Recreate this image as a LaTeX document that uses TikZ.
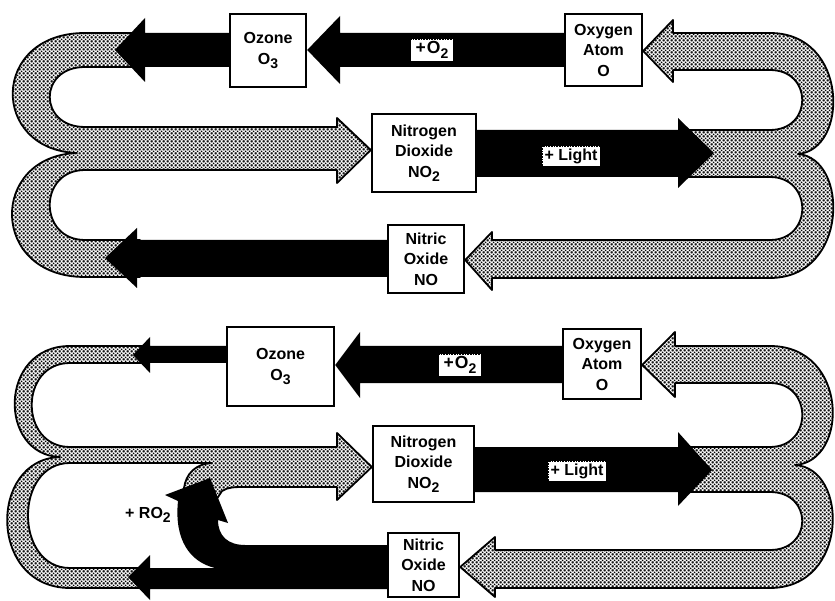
\documentclass[tikz,border=0pt]{standalone}
\usepackage{fontspec}
\setmainfont{Liberation Sans}
\usetikzlibrary{patterns.meta}
\pgfdeclarelayer{bg}
\pgfsetlayers{bg,main}
\tikzdeclarepattern{
  name=stipple,
  type=uncolored,
  bounding box={(0pt,0pt) and (3.6pt,3.6pt)},
  tile size={(3.6pt,3.6pt)},
  code={
    \pgfpathcircle{\pgfqpoint{1.8pt}{1.8pt}}{1.05pt}
    \pgfpathcircle{\pgfqpoint{0pt}{0pt}}{1.05pt}
    \pgfpathcircle{\pgfqpoint{3.6pt}{0pt}}{1.05pt}
    \pgfpathcircle{\pgfqpoint{0pt}{3.6pt}}{1.05pt}
    \pgfpathcircle{\pgfqpoint{3.6pt}{3.6pt}}{1.05pt}
    \pgfusepath{fill}
  }
}
\newcommand\lowsub[1]{\raisebox{-4.5pt}{\fontsize{14}{14}\selectfont #1}}
\begin{document}
\begin{tikzpicture}[x=1pt,y=-1pt,
  box/.style={draw, line width=2.4pt, fill=white, align=center, inner sep=0pt,
    font=\fontsize{16}{20.5}\selectfont\bfseries},
  stip/.style={preaction={fill=white}, pattern=stipple, pattern color=black,
    draw=black, line width=1.8pt, line join=round},
  blk/.style={fill=black},
  tag/.style={fill=white, draw=black, densely dotted, line width=0.6pt, inner sep=2.5pt,
    font=\fontsize{16}{16}\selectfont\bfseries},
  lbl/.style={font=\fontsize{16}{16}\selectfont\bfseries, inner sep=0pt}]
\useasboundingbox (0,0) rectangle (835,601);

% ---------- top diagram: boxes ----------
\node[box, minimum width=76pt, minimum height=73pt] (ozA) at (268,50.5) {Ozone\\O\lowsub{3}};
\node[box, minimum width=77pt, minimum height=72pt] (oxA) at (603.5,50) {Oxygen\\Atom\\O};
\node[box, minimum width=104pt, minimum height=78pt] (no2A) at (424,153) {Nitrogen\\Dioxide\\NO\lowsub{2}};
\node[box, minimum width=76pt, minimum height=68pt] (noA) at (426,259) {Nitric\\Oxide\\NO};

% ---------- bottom diagram: boxes ----------
\node[box, minimum width=107pt, minimum height=79pt] (ozB) at (280.5,366.5) {Ozone\\O\lowsub{3}};
\node[box, minimum width=78pt, minimum height=70pt] (oxB) at (602,364) {Oxygen\\Atom\\O};
\node[box, minimum width=101pt, minimum height=76pt] (no2B) at (423.5,464) {Nitrogen\\Dioxide\\NO\lowsub{2}};
\node[box, minimum width=71pt, minimum height=64pt] (noB) at (423.5,565) {Nitric\\Oxide\\NO};

% ---------- labels ----------
\node[tag, inner xsep=5pt, font=\fontsize{17.5}{17.5}\selectfont\bfseries] (o2A) at (432,50) {+\kern1pt O\lowsub{2}};
\node[tag] (lightA) at (571,156) {+ Light};
\node[tag, inner xsep=5pt, font=\fontsize{17.5}{17.5}\selectfont\bfseries] (o2B) at (460,365) {+\kern1pt O\lowsub{2}};
\node[tag] (lightB) at (577,471) {+ Light};
\node[lbl, anchor=base west] (ro2) at (125,518) {+ RO\lowsub{2}};

\begin{pgfonlayer}{bg}
% ---------- top diagram: stippled bands ----------
\draw[stip] (140,33) -- (85,33) .. controls (-10,33) and (-10,150) .. (77,153)
  .. controls (-11,156) and (-11,277) .. (85,277) -- (140,277) -- (140,240) -- (85,240)
  .. controls (38,240) and (38,170) .. (85,170) -- (337,170) -- (337,183)
  -- (no2A.west |- 0,150) -- (337,118) -- (337,127) -- (85,127)
  .. controls (38,127) and (38,67) .. (85,67) -- (140,67) -- cycle;
\draw[stip] (oxA.east |- 0,51) -- (673,20) -- (673,33) -- (770,33)
  .. controls (849,33) and (849,150) .. (798,154)
  .. controls (849,158) and (849,278) .. (770,278) -- (492,278) -- (492,290)
  -- (noA.east |- 0,260) -- (492,232) -- (492,240) -- (770,240)
  .. controls (813,240) and (813,177) .. (770,177) -- (685,177) -- (685,130) -- (770,130)
  .. controls (813,130) and (813,70) .. (770,70) -- (673,70) -- (673,82) -- cycle;

% ---------- top diagram: black arrows ----------
\fill[blk] (oxA.west |- 0,33) -- (340,33) -- (340,16) -- (ozA.east |- 0,50) -- (340,84)
  -- (340,67) -- (oxA.west |- 0,67) -- cycle;
\fill[blk] (ozA.west |- 0,33) -- (145,33) -- (145,18) -- (115,50) -- (145,82)
  -- (145,67) -- (ozA.west |- 0,67) -- cycle;
\fill[blk] (no2A.east |- 0,130) -- (678,130) -- (678,118) -- (714,153) -- (678,188)
  -- (678,177) -- (no2A.east |- 0,177) -- cycle;
\fill[blk] (noA.west |- 0,240) -- (137,240) -- (137,228) -- (105,258) -- (137,288)
  -- (137,277) -- (noA.west |- 0,277) -- cycle;

% ---------- bottom diagram: stippled bands ----------
\draw[stip] (145,346) -- (70,346) .. controls (-2,346) and (-2,455) .. (60,457)
  .. controls (-12,459) and (-12,588) .. (70,588) -- (145,588) -- (145,568) -- (70,568)
  .. controls (14,568) and (14,463) .. (70,463) -- (212,463)
  .. controls (195,464) and (186,474) .. (184,488) -- (216,500) -- (222,491)
  .. controls (228,487) and (235,487) .. (245,487) -- (337,487) -- (337,500)
  -- (no2B.west |- 0,467) -- (337,433) -- (337,447) -- (70,447)
  .. controls (19,447) and (19,363) .. (70,363) -- (145,363) -- cycle;
\draw[stip] (oxB.east |- 0,365) -- (675,332) -- (675,346) -- (770,346)
  .. controls (849,346) and (849,462) .. (795,465)
  .. controls (849,468) and (849,588) .. (770,588) -- (495,588) -- (495,597)
  -- (noB.east |- 0,567) -- (495,537) -- (495,550) -- (770,550)
  .. controls (813,550) and (813,492) .. (770,492) -- (685,492) -- (685,447) -- (770,447)
  .. controls (813,447) and (813,383) .. (770,383) -- (675,383) -- (675,397) -- cycle;

% ---------- bottom diagram: black arrows ----------
\fill[blk] (oxB.west |- 0,346) -- (360,346) -- (360,332) -- (ozB.east |- 0,365) -- (360,398)
  -- (360,383) -- (oxB.west |- 0,383) -- cycle;
\fill[blk] (ozB.west |- 0,346) -- (150,346) -- (150,337) -- (133,355) -- (150,373)
  -- (150,363) -- (ozB.west |- 0,363) -- cycle;
\fill[blk] (no2B.east |- 0,447) -- (678,447) -- (678,432) -- (712,470) -- (678,506)
  -- (678,492) -- (no2B.east |- 0,492) -- cycle;
\fill[blk] (noB.west |- 0,545) -- (245,545) .. controls (228,545) and (218,536) .. (218,520)
  -- (228,523) -- (210,478) -- (165,495) -- (178,501)
  .. controls (174,540) and (190,562) .. (215,568) -- (150,568) -- (150,555)
  -- (128,577) -- (150,600) -- (150,589) -- (noB.west |- 0,589) -- cycle;
\end{pgfonlayer}
\end{tikzpicture}
\end{document}
